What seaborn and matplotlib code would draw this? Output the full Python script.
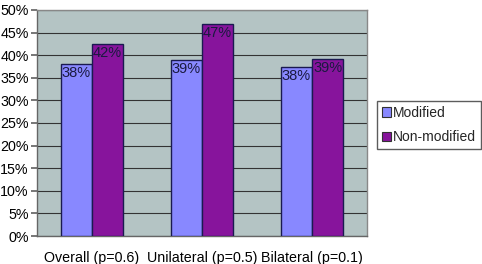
import matplotlib
matplotlib.use("Agg")
import matplotlib.pyplot as plt
import seaborn as sns
import pandas as pd
from matplotlib.ticker import MultipleLocator, FuncFormatter

categories = ["Overall (p=0.6)", "Unilateral (p=0.5)", "Bilateral (p=0.1)"]
series = ["Modified", "Non-modified"]
modified = [38.0, 38.9, 37.3]
non_modified = [42.4, 46.9, 39.2]
label_modified = ["38%", "39%", "38%"]
label_non_modified = ["42%", "47%", "39%"]

df = pd.DataFrame({
    "cat": categories * 2,
    "series": [series[0]] * 3 + [series[1]] * 3,
    "val": modified + non_modified,
})

sns.set_theme(style="white")
plt.rcParams["font.family"] = ["Liberation Sans", "DejaVu Sans"]

fig = plt.figure(figsize=(4.82, 2.64), dpi=100)
ax = fig.add_axes([37 / 482, 1 - 236 / 264, 330 / 482, 226 / 264])

colors = ["#8888ff", "#87149c"]
sns.barplot(data=df, x="cat", y="val", hue="series", palette=colors,
            width=0.57, ax=ax, edgecolor="#1a1a50", linewidth=1.0,
            saturation=1, legend=True, zorder=3)

ax.set_facecolor("#b4c4c4")
ax.set_ylim(0, 50)
ax.set_xlim(-0.5, 2.5)
ax.yaxis.set_major_locator(MultipleLocator(5))
ax.yaxis.set_major_formatter(FuncFormatter(lambda v, p: f"{int(v)}%"))
ax.grid(axis="y", color="#333333", linewidth=0.8, zorder=0)
ax.set_axisbelow(True)
ax.set_xlabel("")
ax.set_ylabel("")

fs = 10.3
ax.set_xticks([0, 1, 2])
ax.set_xticklabels(categories, fontsize=fs, color="black")
ax.tick_params(axis="x", length=0, pad=11)
ax.set_xticks([-0.5, 0.5, 1.5, 2.5], minor=True)
ax.tick_params(axis="x", which="minor", length=4, color="#666666", direction="out")
ax.tick_params(axis="y", labelsize=fs, length=4, color="#666666", direction="out",
               left=True, pad=2, labelcolor="black")

for s in ["left", "bottom"]:
    ax.spines[s].set_color("#666666")
    ax.spines[s].set_linewidth(1.0)
for s in ["top", "right"]:
    ax.spines[s].set_color("#888888")
    ax.spines[s].set_linewidth(1.0)

labels = [label_modified, label_non_modified]
for container, labs in zip(ax.containers, labels):
    for bar, lab in zip(container, labs):
        x = bar.get_x() + bar.get_width() / 2
        y = bar.get_height()
        ax.annotate(lab, (x, y), xytext=(0, -1.5), textcoords="offset points",
                    ha="center", va="top", fontsize=10.5, color="#1a1a40", zorder=5)

h, l = ax.get_legend_handles_labels()
leg = ax.legend(h, l, loc="upper left", bbox_to_anchor=(377 / 482, 1 - 101 / 264),
                bbox_transform=fig.transFigure, frameon=True, fancybox=False,
                edgecolor="#333333", fontsize=10, handlelength=0.65, handleheight=0.65,
                handletextpad=0.15, borderpad=0.35, labelspacing=0.75, borderaxespad=0)
for p in leg.get_patches():
    p.set_edgecolor("#333333")
    p.set_linewidth(0.8)

fig.savefig("out.png", dpi=100, facecolor="white")
